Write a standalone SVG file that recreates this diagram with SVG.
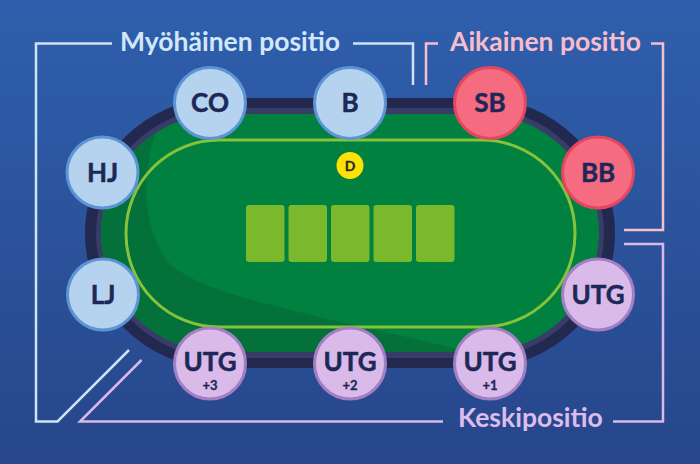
<svg xmlns="http://www.w3.org/2000/svg" width="700" height="464" viewBox="0 0 700 464">
<style>
.seat-t{font-family:Lato,"Liberation Sans",sans-serif;font-weight:700;fill:#1d2858;text-anchor:middle;stroke:#1d2858;stroke-width:0.5}
.lbl{font-size:26px}
.sub{font-size:13px;stroke-width:0.3}
.title{font-family:Lato,"Liberation Sans",sans-serif;font-weight:700;font-size:26.5px}
.blue circle{fill:#b5d3ef;stroke:#5d94d6;stroke-width:3}
.red circle{fill:#f56b7f;stroke:#e3465f;stroke-width:3}
.purple circle{fill:#d9bae9;stroke:#a27fc2;stroke-width:3}
.ln{fill:none;stroke-width:2.5;stroke-linejoin:miter}
.card{fill:#7ab82c}
</style>
<defs>
<linearGradient id="bg" x1="0" y1="0" x2="0" y2="1">
<stop offset="0" stop-color="#2f5fac"/>
<stop offset="1" stop-color="#27468b"/>
</linearGradient>
<clipPath id="feltclip"><rect x="101" y="114" width="498" height="238" rx="119"/></clipPath>
</defs>
<rect width="700" height="464" fill="url(#bg)"/>

<g id="table">
<rect x="85" y="98" width="530" height="270" rx="135" fill="#22284e"/>
<rect x="96" y="108" width="508" height="250" rx="125" fill="#373c68"/>
<rect x="101" y="114" width="498" height="238" rx="119" fill="#01813f"/>
<path clip-path="url(#feltclip)" d="M166 110 C138 160 140 228 170 264 C210 300 330 316 510 362 L80 362 L80 110 Z" fill="#05713a"/>
<rect x="126" y="140" width="449" height="187" rx="93" fill="none" stroke="#86c23a" stroke-width="3"/>
<rect class="card" x="246" y="205" width="38.5" height="57" rx="3"/>
<rect class="card" x="288.5" y="205" width="38.5" height="57" rx="3"/>
<rect class="card" x="331" y="205" width="38.5" height="57" rx="3"/>
<rect class="card" x="373.5" y="205" width="38.5" height="57" rx="3"/>
<rect class="card" x="416" y="205" width="38.5" height="57" rx="3"/>
</g>

<g id="dealer">
<circle cx="350" cy="165.5" r="13.5" fill="#ffe205"/>
<text x="350" y="170.5" class="seat-t" style="font-size:14px;fill:#2a2a2a;stroke:#2a2a2a;stroke-width:0.3">D</text>
</g>

<g id="connectors">
<polyline class="ln" stroke="#cde3f6" points="112,43.5 36,43.5 36,421.5 57.5,421.5 129,350"/>
<polyline class="ln" stroke="#cde3f6" points="353,43.5 413,43.5 413,85"/>
<polyline class="ln" stroke="#f5bfcf" points="426,85 426,43.5 438,43.5"/>
<polyline class="ln" stroke="#f5bfcf" points="651,43.5 663,43.5 663,230 624,230"/>
<polyline class="ln" stroke="#d8b9ea" points="624,244 663,244 663,421.5 613,421.5"/>
<polyline class="ln" stroke="#d8b9ea" points="443,421.5 80,421.5 141.5,360"/>
</g>

<g id="title-late"><text class="title" x="120" y="51" fill="#d2e7f9">Myöhäinen positio</text></g>
<g id="title-early"><text class="title" x="450" y="51" fill="#f8bdcc">Aikainen positio</text></g>
<g id="title-middle"><text class="title" x="458" y="427" fill="#dcbdec">Keskipositio</text></g>

<g id="seat-co" class="blue"><circle cx="210" cy="103" r="35.5"/><text class="seat-t lbl" x="210" y="112">CO</text></g>
<g id="seat-b" class="blue"><circle cx="350" cy="103" r="35.5"/><text class="seat-t lbl" x="350" y="112">B</text></g>
<g id="seat-hj" class="blue"><circle cx="102.5" cy="172.5" r="35.5"/><text class="seat-t lbl" x="102.5" y="181.5">HJ</text></g>
<g id="seat-lj" class="blue"><circle cx="103" cy="294.5" r="35.5"/><text class="seat-t lbl" x="103" y="303.5">LJ</text></g>
<g id="seat-sb" class="red"><circle cx="490" cy="103" r="35.5"/><text class="seat-t lbl" x="490" y="112">SB</text></g>
<g id="seat-bb" class="red"><circle cx="598" cy="172.5" r="35.5"/><text class="seat-t lbl" x="598" y="181.5">BB</text></g>
<g id="seat-utg" class="purple"><circle cx="598" cy="294.5" r="35.5"/><text class="seat-t lbl" x="598" y="303.5">UTG</text></g>
<g id="seat-utg1" class="purple"><circle cx="490" cy="363.5" r="35.5"/><text class="seat-t lbl" x="490" y="370.5">UTG</text><text class="seat-t sub" x="490" y="390">+1</text></g>
<g id="seat-utg2" class="purple"><circle cx="350" cy="363.5" r="35.5"/><text class="seat-t lbl" x="350" y="370.5">UTG</text><text class="seat-t sub" x="350" y="390">+2</text></g>
<g id="seat-utg3" class="purple"><circle cx="210" cy="363.5" r="35.5"/><text class="seat-t lbl" x="210" y="370.5">UTG</text><text class="seat-t sub" x="210" y="390">+3</text></g>
</svg>
